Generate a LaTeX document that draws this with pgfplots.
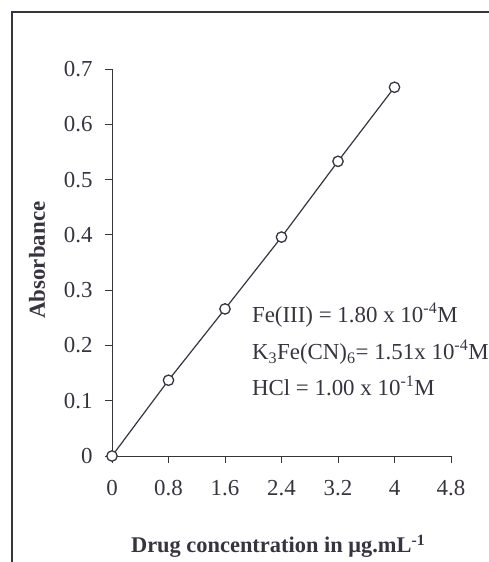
\documentclass[border=0pt]{standalone}
\usepackage{pgfplots}
\pgfplotsset{compat=1.18}
\usepackage{fontspec}
\setmainfont{Liberation Serif}
\definecolor{ink}{rgb}{0.22,0.20,0.25}
\begin{document}
\begin{tikzpicture}
\useasboundingbox (0,0) rectangle (489bp,562bp);
% outer frame (cut off at right and bottom, as in the scan)
\draw[ink, line width=1.3bp] (12bp,0) -- (12bp,550bp) -- (489bp,550bp);
\begin{axis}[
  at={(112bp,106bp)}, anchor=origin,
  scale only axis, width=339bp, height=387bp,
  xmin=0, xmax=4.8, ymin=0, ymax=0.7,
  axis x line*=bottom, axis y line*=left,
  axis line style={ink, line width=1bp},
  xtick={0,0.8,1.6,2.4,3.2,4,4.8},
  ytick={0,0.1,...,0.7},
  tick align=outside, major tick length=7bp,
  tick style={ink, line width=1bp},
  /pgf/number format/assume math mode=true,
  /pgf/number format/fixed,
  ticklabel style={font=\fontsize{23}{26}\selectfont, text=ink},
  xticklabel style={yshift=-14bp},
  yticklabel style={xshift=-9bp},
  xlabel={\textbf{Drug concentration in μg.mL\textsuperscript{-1}}},
  ylabel={\textbf{Absorbance}},
  xlabel style={font=\fontsize{22.5}{26}\selectfont, text=ink, at={(axis description cs:0.49,-0.233)}, anchor=center},
  ylabel style={font=\fontsize{23}{26}\selectfont, text=ink, at={(axis description cs:-0.221,0.506)}, anchor=center},
  clip=false,
]
\addplot[ink, line width=1.2bp, mark=*, mark size=5.2bp, mark options={fill=white, draw=ink, line width=1.3bp}]
  coordinates {(0,0) (0.8,0.137) (1.6,0.266) (2.4,0.396) (3.2,0.533) (4,0.667)};
\node[anchor=west, text=ink, font=\fontsize{23}{26}\selectfont, inner sep=0pt] at (axis cs:1.98,0.254) {Fe(III) = 1.80 x 10\textsuperscript{-4}M};
\node[anchor=west, text=ink, font=\fontsize{23}{26}\selectfont, inner sep=0pt] at (axis cs:1.98,0.188) {K\textsubscript{3}Fe(CN)\textsubscript{6}= 1.51x 10\textsuperscript{-4}M};
\node[anchor=west, text=ink, font=\fontsize{23}{26}\selectfont, inner sep=0pt] at (axis cs:1.98,0.126) {HCl = 1.00 x 10\textsuperscript{-1}M};
\end{axis}
\end{tikzpicture}
\end{document}
